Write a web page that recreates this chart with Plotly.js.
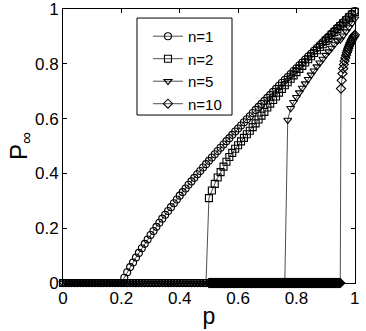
<!DOCTYPE html>
<html>
<head>
<meta charset="utf-8">
<script src="https://cdn.plot.ly/plotly-3.0.1.min.js"></script>
<style>
  html, body { margin: 0; padding: 0; background: #fff; }
  #chart { width: 366px; height: 331px; }
</style>
</head>
<body>
<div id="chart"></div>
<script>
// p grid for n=1, 2, 5 : 0 .. 1 in steps of 0.01
const pGrid = Array.from({length: 101}, (_, i) => +(i * 0.01).toFixed(2));

// n=10 was sampled only from p=0.5, in finer steps of 0.0025
const pGrid10 = Array.from({length: 201}, (_, i) => +(0.5 + i * 0.0025).toFixed(4));

const tickVals = [0, 0.2, 0.4, 0.6, 0.8, 1];
const tickText = ['0', '0.2', '0.4', '0.6', '0.8', '1'];

// P_inf
const pinf1 = [
  0, 0, 0, 0, 0, 0, 0, 0, 0, 0,
  0, 0, 0, 0, 0, 0, 0, 0, 0, 0,
  0, 0.019, 0.039, 0.058, 0.075, 0.093, 0.110, 0.127, 0.143, 0.159,
  0.175, 0.190, 0.205, 0.220, 0.235, 0.249, 0.263, 0.277, 0.291, 0.305,
  0.319, 0.332, 0.345, 0.359, 0.371, 0.384, 0.397, 0.409, 0.422, 0.434,
  0.446, 0.458, 0.470, 0.482, 0.494, 0.506, 0.518, 0.529, 0.541, 0.553,
  0.564, 0.575, 0.587, 0.598, 0.609, 0.621, 0.632, 0.643, 0.654, 0.665,
  0.676, 0.687, 0.698, 0.709, 0.720, 0.731, 0.742, 0.752, 0.763, 0.774,
  0.784, 0.795, 0.805, 0.816, 0.827, 0.837, 0.848, 0.858, 0.869, 0.879,
  0.890, 0.900, 0.911, 0.921, 0.932, 0.942, 0.952, 0.963, 0.973, 0.983,
  0.993
];

const pinf2 = [
  0, 0, 0, 0, 0, 0, 0, 0, 0, 0,
  0, 0, 0, 0, 0, 0, 0, 0, 0, 0,
  0, 0, 0, 0, 0, 0, 0, 0, 0, 0,
  0, 0, 0, 0, 0, 0, 0, 0, 0, 0,
  0, 0, 0, 0, 0, 0, 0, 0, 0, 0,
  0.310, 0.338, 0.362, 0.385, 0.405, 0.425, 0.443, 0.460, 0.475, 0.490,
  0.503, 0.517, 0.530, 0.543, 0.556, 0.569, 0.583, 0.597, 0.611, 0.625,
  0.641, 0.655, 0.668, 0.681, 0.695, 0.709, 0.722, 0.733, 0.746, 0.758,
  0.770, 0.782, 0.793, 0.805, 0.817, 0.828, 0.840, 0.850, 0.862, 0.872,
  0.884, 0.894, 0.906, 0.916, 0.927, 0.938, 0.948, 0.959, 0.970, 0.980,
  0.990
];

const pinf5 = [
  0, 0, 0, 0, 0, 0, 0, 0, 0, 0,
  0, 0, 0, 0, 0, 0, 0, 0, 0, 0,
  0, 0, 0, 0, 0, 0, 0, 0, 0, 0,
  0, 0, 0, 0, 0, 0, 0, 0, 0, 0,
  0, 0, 0, 0, 0, 0, 0, 0, 0, 0,
  0, 0, 0, 0, 0, 0, 0, 0, 0, 0,
  0, 0, 0, 0, 0, 0, 0, 0, 0, 0,
  0, 0, 0, 0, 0, 0, 0, 0.595, 0.638, 0.660,
  0.678, 0.695, 0.712, 0.728, 0.744, 0.760, 0.775, 0.790, 0.804, 0.818,
  0.832, 0.845, 0.858, 0.871, 0.884, 0.888, 0.903, 0.918, 0.933, 0.948,
  0.965
];

// 181 zeros (p = 0.5 .. 0.95), then the jump
const pinf10 = [
  0, 0, 0, 0, 0, 0, 0, 0, 0, 0, 0, 0, 0, 0, 0, 0, 0, 0, 0, 0,
  0, 0, 0, 0, 0, 0, 0, 0, 0, 0, 0, 0, 0, 0, 0, 0, 0, 0, 0, 0,
  0, 0, 0, 0, 0, 0, 0, 0, 0, 0, 0, 0, 0, 0, 0, 0, 0, 0, 0, 0,
  0, 0, 0, 0, 0, 0, 0, 0, 0, 0, 0, 0, 0, 0, 0, 0, 0, 0, 0, 0,
  0, 0, 0, 0, 0, 0, 0, 0, 0, 0, 0, 0, 0, 0, 0, 0, 0, 0, 0, 0,
  0, 0, 0, 0, 0, 0, 0, 0, 0, 0, 0, 0, 0, 0, 0, 0, 0, 0, 0, 0,
  0, 0, 0, 0, 0, 0, 0, 0, 0, 0, 0, 0, 0, 0, 0, 0, 0, 0, 0, 0,
  0, 0, 0, 0, 0, 0, 0, 0, 0, 0, 0, 0, 0, 0, 0, 0, 0, 0, 0, 0,
  0, 0, 0, 0, 0, 0, 0, 0, 0, 0, 0, 0, 0, 0, 0, 0, 0, 0, 0, 0,
  0,
  0.710, 0.740, 0.765, 0.783, 0.798, 0.811, 0.822, 0.832, 0.841, 0.849,
  0.857, 0.864, 0.871, 0.877, 0.883, 0.888, 0.893, 0.898, 0.902, 0.906
];

const seriesNames = ['n=1', 'n=2', 'n=5', 'n=10'];
const symbols = ['circle-open', 'square-open', 'triangle-down-open', 'diamond-open'];

const xs = [pGrid, pGrid, pGrid, pGrid10];
const ys = [pinf1, pinf2, pinf5, pinf10];

const traces = seriesNames.map((name, i) => ({
  x: xs[i],
  y: ys[i],
  name,
  type: 'scatter',
  mode: 'lines+markers',
  cliponaxis: false,
  line: {color: '#000', width: 0.7},
  marker: {symbol: symbols[i], size: 7, color: '#000', line: {color: '#000', width: 1.1}}
}));

const FONT = 'Liberation Sans, Arial, Helvetica, sans-serif';

const axisBase = {
  range: [0, 1.0005],
  tickmode: 'array',
  tickvals: tickVals,
  ticktext: tickText,
  ticklabeloverflow: 'allow',
  showgrid: false,
  zeroline: false,
  showline: true,
  linecolor: '#000',
  linewidth: 1,
  mirror: 'ticks',
  ticks: 'inside',
  ticklen: 4,
  tickcolor: '#000',
  tickfont: {family: FONT, size: 17, color: '#000'}
};

const layout = {
  width: 366,
  height: 331,
  margin: {l: 63, r: 11, t: 9, b: 48},
  paper_bgcolor: '#fff',
  plot_bgcolor: '#fff',
  font: {family: FONT, color: '#000'},
  xaxis: Object.assign({}, axisBase, {
    title: {text: 'p', font: {family: FONT, size: 23}, standoff: 0}
  }),
  yaxis: Object.assign({}, axisBase, {
    title: {text: 'P<sub>∞</sub>', font: {family: FONT, size: 24}, standoff: 0}
  }),
  // legend frame drawn as a shape so the rows can sit where the reference has them
  shapes: [{
    type: 'rect', xref: 'paper', yref: 'paper', layer: 'above',
    x0: 0.2534, x1: 0.5788, y0: 0.613, y1: 0.967,
    line: {color: '#000', width: 1}
  }],
  showlegend: true,
  legend: {
    x: 0.291,
    y: 0.96,
    xanchor: 'left',
    yanchor: 'top',
    bgcolor: 'rgba(0,0,0,0)',
    borderwidth: 0,
    font: {family: FONT, size: 15, color: '#000'},
    tracegroupgap: 0,
    itemwidth: 30
  }
};

Plotly.newPlot('chart', traces, layout, {displayModeBar: false, staticPlot: true}).then(() => {
  // make sure the end labels ("1") are not dropped at the edge
  document.querySelectorAll('.xtick text, .ytick text').forEach((t) => t.removeAttribute('display'));
});
</script>
</body>
</html>
